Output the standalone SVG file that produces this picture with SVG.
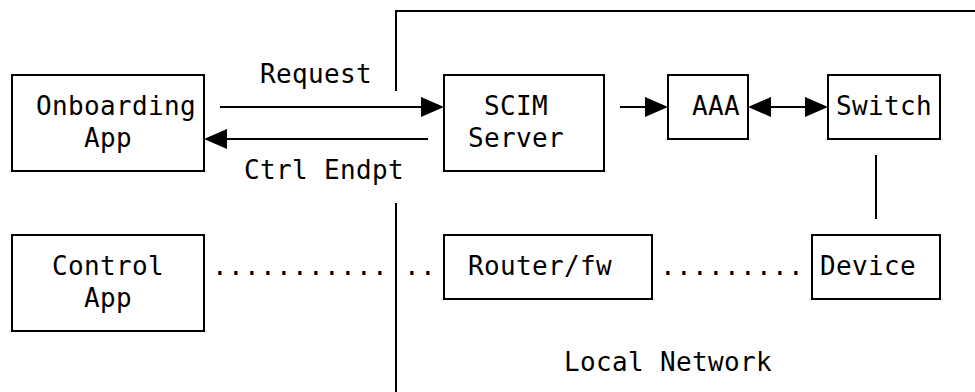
<svg xmlns="http://www.w3.org/2000/svg" width="975" height="392" viewBox="0 0 975 392">
<style>
  rect.box { fill: #ffffff; stroke: #000000; stroke-width: 2; }
  .ln { fill: none; stroke: #000000; stroke-width: 2; }
  text { font-family: "DejaVu Sans Mono", "Liberation Mono", monospace; font-size: 26px; fill: #000000; letter-spacing: 0.35px; }
</style>
<defs>
  <marker id="arrow" viewBox="0 0 23 20" markerWidth="23" markerHeight="20" refX="11" refY="10" markerUnits="userSpaceOnUse" orient="auto-start-reverse">
    <path d="M0,0 L23,10 L0,20 z" fill="#000000"/>
  </marker>
</defs>
<rect width="975" height="392" fill="#ffffff"/>
<g id="connectors">
  <path class="ln" d="M396,91 V11 H975"/>
  <path class="ln" d="M396,203 V392"/>
  <path class="ln" d="M220,107 H432" marker-end="url(#arrow)"/>
  <path class="ln" d="M428,139 H216" marker-end="url(#arrow)"/>
  <path class="ln" d="M620,107 H656" marker-end="url(#arrow)"/>
  <path class="ln" d="M760,107 H816" marker-start="url(#arrow)" marker-end="url(#arrow)"/>
  <path class="ln" d="M876,155 V219"/>
  <text x="212" y="275">...........</text>
  <text x="404" y="275">..</text>
  <text x="660" y="275">.........</text>
  <text x="260" y="83">Request</text>
  <text x="244" y="179">Ctrl Endpt</text>
</g>
<g id="onboarding-app">
  <rect class="box" x="12" y="75" width="192" height="96"/>
  <text x="36" y="115">Onboarding</text>
  <text x="84" y="147">App</text>
</g>
<g id="scim-server">
  <rect class="box" x="444" y="75" width="160" height="96"/>
  <text x="484" y="115">SCIM</text>
  <text x="468" y="147">Server</text>
</g>
<g id="aaa">
  <rect class="box" x="668" y="75" width="80" height="64"/>
  <text x="692" y="115">AAA</text>
</g>
<g id="switch">
  <rect class="box" x="828" y="75" width="112" height="64"/>
  <text x="836" y="115">Switch</text>
</g>
<g id="control-app">
  <rect class="box" x="12" y="235" width="192" height="96"/>
  <text x="52" y="275">Control</text>
  <text x="84" y="307">App</text>
</g>
<g id="router-fw">
  <rect class="box" x="444" y="235" width="208" height="64"/>
  <text x="468" y="275">Router/fw</text>
</g>
<g id="device">
  <rect class="box" x="812" y="235" width="128" height="64"/>
  <text x="820" y="275">Device</text>
</g>
<g id="local-network">
  <text x="564" y="371">Local Network</text>
</g>
</svg>
